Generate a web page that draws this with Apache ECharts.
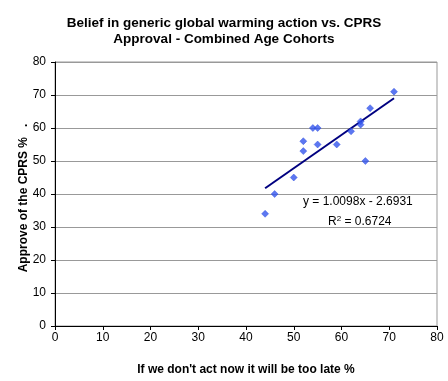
<!DOCTYPE html>
<html><head><meta charset="utf-8">
<script src="https://cdn.jsdelivr.net/npm/echarts@6/dist/echarts.min.js"></script>
<style>html,body{margin:0;padding:0;background:#fff}#c{width:448px;height:381px}</style>
</head><body><div id="c"></div>
<script>
const xValues = [71, 66, 64, 64, 62, 54, 55, 52, 52, 55, 59, 65, 50, 46, 44];
const yValues = [71, 66, 62, 61, 59, 60, 60, 56, 53, 55, 55, 50, 45, 40, 34];
const trendSlope = 1.0098;
const trendIntercept = -2.6931;
const trendRange = [44, 71];
const axisTicks = [0, 10, 20, 30, 40, 50, 60, 70, 80];
const titleLines = ['Belief in generic global warming action vs. CPRS', 'Approval - Combined Age Cohorts'];
const eqText = ['y = 1.0098x - 2.6931', 'R{s|2} = 0.6724'];

const pts = xValues.map((x, i) => [x, yValues[i]]);
const trend = trendRange.map(x => [x, trendSlope * x + trendIntercept]);
const font = 'Liberation Sans, Arial, sans-serif';

const chart = echarts.init(document.getElementById('c'), null, {renderer: 'canvas'});
chart.setOption({
  animation: false,
  backgroundColor: '#fff',
  title: {
    text: titleLines.join('\n'), left: 'center', top: 10,
    textStyle: {fontFamily: font, fontSize: 13.5, fontWeight: 'bold', color: '#000', lineHeight: 16}
  },
  grid: {left: 55, right: 11, top: 62, bottom: 55, show: true, borderColor: '#999', borderWidth: 1},
  xAxis: {
    type: 'value', min: axisTicks[0], max: axisTicks[axisTicks.length - 1], interval: 10,
    name: "If we don't act now it will be too late %", nameLocation: 'middle', nameGap: 38,
    nameMoveOverlap: false,
    nameTextStyle: {fontFamily: font, fontSize: 12, fontWeight: 'bold', color: '#000'},
    axisLine: {lineStyle: {color: '#000', width: 1}},
    axisTick: {show: true, length: 4, lineStyle: {color: '#000'}},
    axisLabel: {fontFamily: font, fontSize: 12, color: '#000', margin: 6},
    splitLine: {show: false}
  },
  yAxis: {
    type: 'value', min: axisTicks[0], max: axisTicks[axisTicks.length - 1], interval: 10,
    name: 'Approve of the CPRS %   .', nameLocation: 'middle', nameGap: 25, nameRotate: 90,
    nameMoveOverlap: false,
    nameTextStyle: {fontFamily: font, fontSize: 12, fontWeight: 'bold', color: '#000', padding: [0, 8, 0, 0]},
    axisLine: {show: true, lineStyle: {color: '#000', width: 1}},
    axisTick: {show: true, length: 4, lineStyle: {color: '#000'}},
    axisLabel: {fontFamily: font, fontSize: 12, color: '#000', margin: 9},
    splitLine: {show: true, lineStyle: {color: '#999', width: 1}}
  },
  series: [
    {
      type: 'line', data: trend, symbol: 'none', z: 2,
      lineStyle: {color: '#000080', width: 2}
    },
    {
      type: 'scatter', data: pts, symbol: 'diamond', symbolSize: 7, z: 3,
      itemStyle: {color: '#3355ee', borderColor: '#2244dd', borderWidth: 0.5}
    }
  ],
  graphic: [
    {type: 'text', left: 303, top: 196, style: {text: eqText[0], font: '12px ' + font, fill: '#000'}},
    {type: 'text', left: 328, top: 215, style: {text: eqText[1], font: '12px ' + font, fill: '#000',
      rich: {s: {fontSize: 8, verticalAlign: 'top', padding: [0, 0, 6, 0]}}}}
  ]
});
</script></body></html>
